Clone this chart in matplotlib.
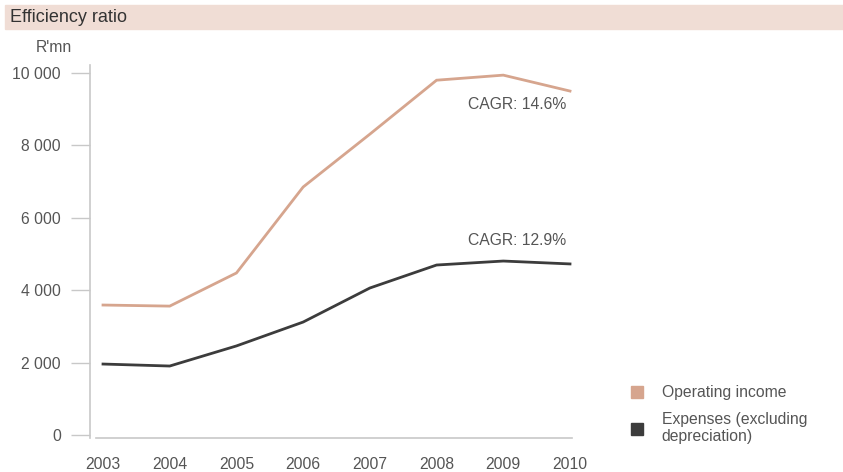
import numpy as np
import matplotlib.pyplot as plt
from matplotlib.patches import Rectangle
from matplotlib.lines import Line2D

plt.rcParams['font.family'] = ['Liberation Sans', 'DejaVu Sans']

years = [2003, 2004, 2005, 2006, 2007, 2008, 2009, 2010]
operating_income = [3590, 3560, 4475, 6850, 8310, 9800, 9940, 9500]
expenses = [1960, 1905, 2460, 3120, 4060, 4695, 4805, 4725]
cagr_income = '14.6%'
cagr_expenses = '12.9%'

orange = '#d6a58e'
dark = '#3c3c3c'
grey_txt = '#555555'
axis_col = '#c8c8c8'
fs = 11.3

fig = plt.figure(figsize=(8.43, 4.72), dpi=100)

# title band
fig.patches.append(Rectangle((5/843, 1-29/472), 838/843, 24/472,
                             transform=fig.transFigure, color='#f0ddd5', zorder=0))
fig.text(10/843, 1-17/472, 'Efficiency ratio', fontsize=13, color='#333333', va='center')

ax = fig.add_axes([90/843, 1-438/472, 485/843, 373/472])
ax.plot(years, operating_income, color=orange, lw=2, solid_joinstyle='miter')
ax.plot(years, expenses, color=dark, lw=2, solid_joinstyle='miter')

ax.set_xlim(2002.805, 2010.075)
ax.set_ylim(-83, 10220)
ax.set_xticks(years)
ax.set_yticks(np.arange(0, 10001, 2000))
ax.set_yticklabels(['0', '2 000', '4 000', '6 000', '8 000', '10 000'])

for s in ['top', 'right']:
    ax.spines[s].set_visible(False)
ax.spines['left'].set_color(axis_col)
ax.spines['bottom'].set_color(axis_col)
ax.spines['left'].set_linewidth(1.2)
ax.spines['bottom'].set_linewidth(1.2)
ax.spines['bottom'].set_bounds(2002.895, 2010.03)

ax.tick_params(axis='y', length=14, width=1, color=axis_col, pad=7,
               labelsize=fs, labelcolor=grey_txt)
ax.tick_params(axis='x', length=0, pad=14, labelsize=fs, labelcolor=grey_txt)

fig.text(36/843, 1-47/472, "R'mn", fontsize=fs, color=grey_txt, va='center')

ax.annotate('CAGR: ' + cagr_income, xy=(years[-1], operating_income[-1]),
            xytext=(-3, -10), textcoords='offset points', ha='right', va='center',
            fontsize=fs, color=grey_txt)
ax.annotate('CAGR: ' + cagr_expenses, xy=(years[-1], expenses[-1]),
            xytext=(-3, 17), textcoords='offset points', ha='right', va='center',
            fontsize=fs, color=grey_txt)

handles = [Line2D([], [], marker='s', ls='', color=orange, markersize=9),
           Line2D([], [], marker='s', ls='', color=dark, markersize=9)]
fig.legend(handles, ['Operating income', 'Expenses (excluding\ndepreciation)'],
           loc='upper left', bbox_to_anchor=(613/843, 1-371/472), frameon=False,
           fontsize=fs, labelcolor=grey_txt, handletextpad=1.0, labelspacing=0.75,
           handlelength=1.2)

fig.savefig('out.png', dpi=100)
